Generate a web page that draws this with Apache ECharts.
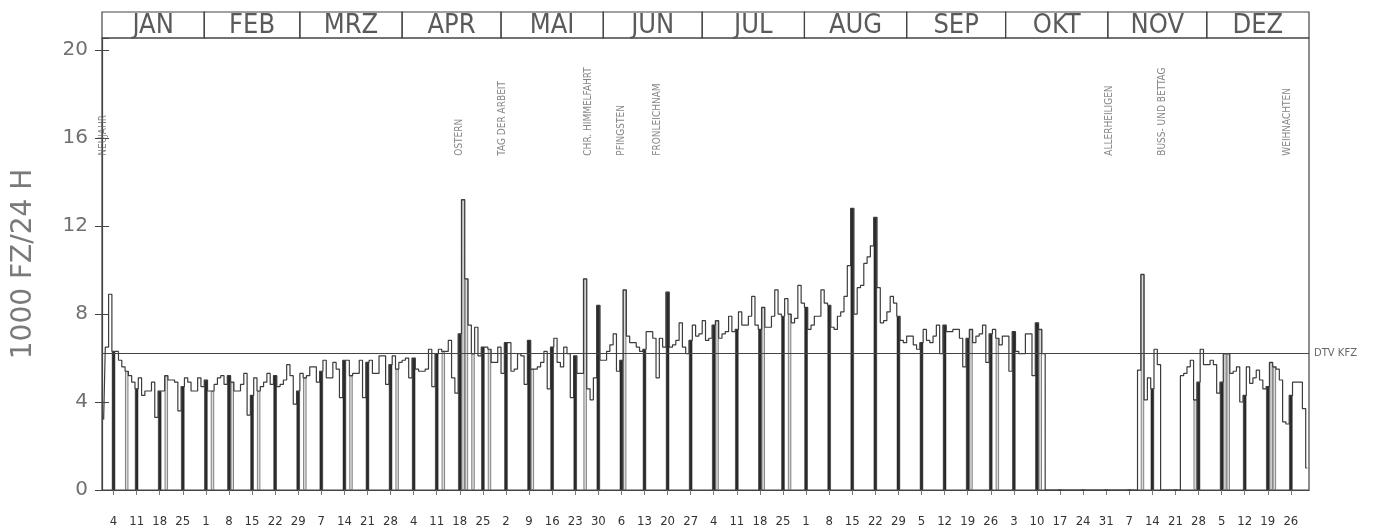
<!DOCTYPE html>
<html><head><meta charset="utf-8">
<script src="https://cdn.jsdelivr.net/npm/echarts/dist/echarts.min.js"></script>
<style>html,body{margin:0;padding:0;background:#fff}#c{width:1375px;height:531px}</style>
</head><body><div id="c"></div>
<script>
// Daily traffic volumes (1000 vehicles / 24 h), year 1976
const monthNames = ['JAN','FEB','MRZ','APR','MAI','JUN','JUL','AUG','SEP','OKT','NOV','DEZ'];
const jan = [3.2,6.5,8.9,6.3,6.3,5.9,5.6,5.4,5.2,4.9,4.6,5.1,4.3,4.5,4.5,4.9,3.3,4.5,4.5,5.2,5.0,5.0,4.9,3.6,4.7,5.1,4.9,4.5,4.5,5.1,4.7];
const feb = [5.0,4.5,4.5,4.8,5.1,5.2,4.8,5.2,4.9,4.5,4.5,4.8,5.3,3.4,4.3,5.1,4.5,4.7,4.9,5.3,4.8,5.2,4.7,4.8,5.0,5.7,5.2,3.9,4.5];
const mrz = [5.3,5.1,5.2,5.6,5.6,4.9,5.4,5.9,5.1,5.1,5.8,5.5,4.2,5.9,5.9,5.2,5.3,5.3,5.9,4.2,5.8,5.9,5.3,5.3,6.1,6.1,4.8,5.7,6.1,5.5,5.8];
const apr = [5.9,6.0,5.1,6.0,5.5,5.4,5.4,5.5,6.4,4.7,6.2,6.4,6.3,6.3,6.8,5.1,4.4,7.1,13.2,9.6,7.5,6.2,7.4,6.1,6.5,6.5,6.4,5.8,5.8,6.5];
const mai = [5.3,6.7,6.7,5.4,5.5,6.2,6.1,4.8,6.8,5.5,5.5,5.6,5.8,6.3,4.6,6.5,6.9,5.8,5.6,6.5,6.2,4.2,6.1,5.3,5.3,9.6,4.6,4.1,5.1,8.4,5.9];
const jun = [5.9,6.3,6.6,7.1,5.4,5.9,9.1,7.0,6.7,6.7,6.5,6.3,6.4,7.2,7.2,6.9,5.1,6.9,6.5,9.0,6.5,6.6,6.8,7.6,6.5,6.2,6.8,7.5,7.0,7.1];
const jul = [7.7,6.8,6.9,7.5,7.7,6.9,7.1,7.2,7.9,7.2,7.3,8.1,7.5,7.5,7.9,8.8,7.5,7.3,8.3,7.4,7.4,7.9,9.1,8.0,7.9,8.7,8.0,7.6,7.8,9.3,8.5];
const aug = [8.3,7.3,7.5,7.9,7.9,9.1,8.5,8.4,7.4,7.3,7.9,8.1,8.8,10.2,12.8,8.0,9.2,9.3,10.3,10.6,11.1,12.4,9.2,7.6,7.7,8.1,8.8,8.5,7.9,6.8,6.7];
const sep = [7.0,7.0,6.6,6.4,6.7,7.3,6.8,6.7,7.0,7.5,6.2,7.5,7.2,7.2,7.3,7.3,6.9,5.6,6.9,7.3,6.7,7.0,7.1,7.5,5.8,7.1,7.3,6.9,6.6,7.0];
const okt = [7.0,5.4,7.2,6.3,6.2,6.2,7.1,7.1,5.2,7.6,7.3,6.2,0,0,0,0,0,0,0,0,0,0,0,0,0,0,0,0,0,0,0];
const nov = [0,0,0,0,0,0,0,0,0,5.45,9.8,4.1,5.1,4.6,6.4,5.7,0,0,0,0,0,0,5.2,5.3,5.6,5.9,4.1,4.9,6.4,5.7];
const dez = [5.7,5.9,5.7,4.4,4.9,6.2,6.2,5.3,5.4,5.6,4.0,4.3,5.6,4.85,5.1,5.45,5.0,4.6,4.7,5.8,5.6,5.5,5.0,3.1,3.0,4.3,4.9,4.9,4.9,3.7,1.0];
const monthValues = [jan,feb,mrz,apr,mai,jun,jul,aug,sep,okt,nov,dez];

// x tick labels (Sundays)
const sundayLabels = [4,11,18,25,1,8,15,22,29,7,14,21,28,4,11,18,25,2,9,16,23,30,6,13,20,27,4,11,18,25,1,8,15,22,29,5,12,19,26,3,10,17,24,31,7,14,21,28,5,12,19,26];
const firstSunday = 3; // day-of-year index of Jan 4
// days (day-of-year index) drawn as light outlined bars
const outlineDays = [7,19,33,39,47,61,75,89,103,109,110,112,117,130,146,158,186,200,208,263,271,284,315,331,340,341,354,355];
// holidays: [day-of-year index, label]
const holidays = [[0,'NEUJAHR'],[108,'OSTERN'],[121,'TAG DER ARBEIT'],[147,'CHR. HIMMELFAHRT'],[157,'PFINGSTEN'],[168,'FRONLEICHNAM'],[305,'ALLERHEILIGEN'],[321,'BUSS- UND BETTAG'],[359,'WEIHNACHTEN']];
const dtv = 6.2;

const daily = [].concat(...monthValues);
const categories = daily.map((v,i)=>{const d=new Date(Date.UTC(1976,0,1+i));return d.toISOString().slice(0,10);});
const isSunday = i => (i - firstSunday) % 7 === 0 && i >= firstSunday;
const sundaySeries = daily.map((v,i)=> isSunday(i) ? v : '-');
const outlineSeries = daily.map((v,i)=> outlineDays.includes(i) ? v : '-');
const monthStarts=[]; let acc=0; monthValues.forEach(m=>{monthStarts.push(acc);acc+=m.length;});
const headerData = monthNames.map((n,i)=>[monthStarts[i], monthStarts[i]+monthValues[i].length, i]);

const LABEL_Y = 15.2;
const cond = "'DejaVu Sans Condensed','Liberation Sans Narrow','DejaVu Sans',sans-serif";

const chart = echarts.init(document.getElementById('c'), null, {renderer:'canvas'});
chart.setOption({
  animation:false,
  backgroundColor:'#fff',
  grid:[
    {left:102, right:66, top:38, bottom:41, show:true, borderColor:'#444', borderWidth:1.2, outerBoundsMode:'none', containLabel:false},
    {left:102, right:66, top:12, height:26, show:false, outerBoundsMode:'none', containLabel:false}
  ],
  xAxis:[
    {type:'category', gridIndex:0, data:categories, boundaryGap:true,
      axisLine:{show:true, lineStyle:{color:'#444', width:1.2}},
      axisTick:{show:true, interval:(i)=>isSunday(i), alignWithLabel:true, length:5, lineStyle:{color:'#777'}},
      axisLabel:{show:true, interval:(i)=>isSunday(i), margin:25, fontSize:13, color:'#333', fontFamily:cond,
        formatter:(v,i)=> sundayLabels[(i-firstSunday)/7]},
      splitLine:{show:false}},
    {type:'value', gridIndex:1, min:0, max:daily.length, show:false}
  ],
  yAxis:[
    {type:'value', gridIndex:0, min:0, max:20.55, interval:4, position:'left',
      axisLine:{show:true, lineStyle:{color:'#444', width:1.2}},
      axisTick:{show:true, inside:false, length:7, lineStyle:{color:'#444'}},
      axisLabel:{margin:14, fontSize:20, color:'#707070', fontFamily:'DejaVu Sans', showMaxLabel:false,
        formatter:v=> (v%4===0 ? String(v) : '')},
      splitLine:{show:false},
      name:'1000 FZ/24 H', nameLocation:'middle', nameGap:64, nameRotate:90,
      nameTextStyle:{fontSize:28, color:'#7a7a7a', fontFamily:'DejaVu Sans'}},
    {type:'value', gridIndex:0, min:0, max:20.55, interval:4, position:'left',
      axisLine:{show:false}, axisTick:{show:true, inside:true, length:7, lineStyle:{color:'#444'}},
      axisLabel:{show:false}, splitLine:{show:false}},
    {type:'value', gridIndex:1, min:0, max:1, show:false}
  ],
  series:[
    {type:'bar', xAxisIndex:0, yAxisIndex:0, data:outlineSeries, barWidth:'100%', barGap:'-100%',
      itemStyle:{color:'#dcdcdc', borderColor:'#666', borderWidth:0.8}, z:2},
    {type:'bar', xAxisIndex:0, yAxisIndex:0, data:sundaySeries, barWidth:'100%', barGap:'-100%',
      itemStyle:{color:'#2b2b2b', borderColor:'#222', borderWidth:0.5}, z:3},
    {type:'line', xAxisIndex:0, yAxisIndex:0, data:daily, step:'middle', symbol:'none',
      lineStyle:{color:'#3c3c3c', width:1.2}, z:4,
      markLine:{silent:true, symbol:'none', animation:false,
        lineStyle:{color:'#444', width:1.2, type:'solid'},
        label:{show:true, position:'end', formatter:'DTV KFZ', fontSize:10, color:'#666', distance:5, fontFamily:'DejaVu Sans'},
        data:[{yAxis:dtv}]}},
    {type:'scatter', xAxisIndex:0, yAxisIndex:0, symbolSize:0, silent:true, z:5,
      data:holidays.map(h=>({value:[h[0], LABEL_Y], name:h[1]})),
      label:{show:true, formatter:'{b}', position:'inside', rotate:90, align:'left', verticalAlign:'middle',
        fontSize:10, color:'#666', fontFamily:cond}},
    {type:'custom', xAxisIndex:1, yAxisIndex:2, data:headerData, silent:true,
      encode:{x:[0,1], y:-1},
      renderItem:(params, api)=>{
        const s = api.coord([api.value(0), 1]);
        const e = api.coord([api.value(1), 0]);
        return {type:'group', children:[
          {type:'rect', shape:{x:s[0], y:s[1], width:e[0]-s[0], height:e[1]-s[1]},
            style:{fill:'none', stroke:'#444', lineWidth:1.2}},
          {type:'text', style:{x:(s[0]+e[0])/2, y:(s[1]+e[1])/2+1, text:monthNames[api.value(2)],
            textAlign:'center', textVerticalAlign:'middle', fontSize:27, fontFamily:cond, fill:'#5a5a5a'}}
        ]};
      }}
  ]
});
</script>
</body></html>
